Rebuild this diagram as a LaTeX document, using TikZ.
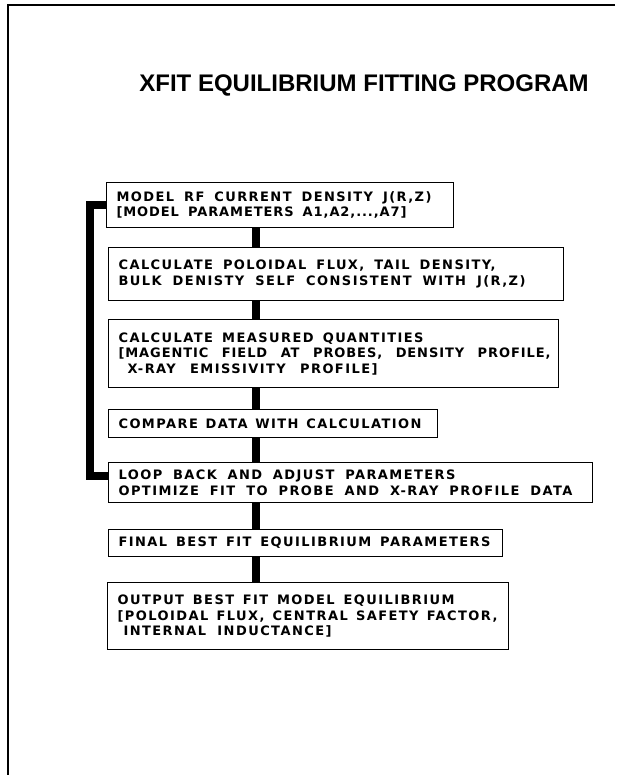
\documentclass[tikz,border=0pt]{standalone}
\usepackage{fontspec}
\setmainfont{Liberation Sans}
\newfontfamily\boxfont{DejaVu Sans}[LetterSpace=11]
\newfontfamily\tightboxfont{DejaVu Sans}[LetterSpace=7]
\newfontfamily\titlefont{Liberation Sans}
\newcommand\fitline[2]{\makebox[#1][s]{\frenchspacing\spaceskip=0.4em plus 1fil\relax #2}}
\begin{document}
\begin{tikzpicture}[x=1pt,y=-1pt,
  stepbox/.style={draw=black, line width=1.1pt, anchor=north west, inner xsep=10pt, inner ysep=0pt,
     align=left, font=\boxfont\bfseries\fontsize{13}{15.5}\selectfont},
  bar/.style={line width=8pt, line join=miter},
  frame/.style={line width=2pt}]
\useasboundingbox (0,0) rectangle (622,775);
% frame (top and left only)
\coordinate (ftl) at (8,5);
\coordinate (ftr) at (615,5);
\coordinate (fbl) at (8,775);
\draw[frame] (ftr) -- (ftl) -- (fbl);
% title
\node[font=\titlefont\bfseries\fontsize{24}{28}\selectfont, inner sep=0pt] (title) at (364,85) {XFIT EQUILIBRIUM FITTING PROGRAM};
% boxes
\node[stepbox, minimum width=347pt, minimum height=45pt, text width=327pt] (b1) at (106,182)
  {\fitline{315pt}{MODEL RF CURRENT DENSITY J(R,Z)}\\ \fitline{290pt}{\tightboxfont\bfseries [MODEL PARAMETERS A1,A2,...,A7]}};
\node[stepbox, minimum width=455pt, minimum height=53pt, text width=435pt] (b2) at (108,247)
  {\fitline{377pt}{CALCULATE POLOIDAL FLUX, TAIL DENSITY,}\\ \fitline{407pt}{BULK DENISTY SELF CONSISTENT WITH J(R,Z)}};
\node[stepbox, minimum width=450pt, minimum height=68pt, text width=430pt] (b3) at (108,319)
  {\fitline{305pt}{CALCULATE MEASURED QUANTITIES}\\ \fitline{432pt}{\tightboxfont\bfseries [MAGENTIC FIELD AT PROBES, DENSITY PROFILE,}\\ \hspace*{9pt}\fitline{250pt}{X-RAY EMISSIVITY PROFILE]}};
\node[stepbox, minimum width=329pt, minimum height=28pt, text width=309pt] (b4) at (108,409)
  {\fitline{303pt}{COMPARE DATA WITH CALCULATION}};
\node[stepbox, minimum width=484pt, minimum height=40pt, text width=464pt] (b5) at (108,462)
  {\fitline{337pt}{LOOP BACK AND ADJUST PARAMETERS}\\ \fitline{454pt}{OPTIMIZE FIT TO PROBE AND X-RAY PROFILE DATA}};
\node[stepbox, minimum width=394pt, minimum height=27pt, text width=374pt] (b6) at (108,529)
  {\fitline{372pt}{FINAL BEST FIT EQUILIBRIUM PARAMETERS}};
\node[stepbox, minimum width=401pt, minimum height=67pt, text width=381pt] (b7) at (107,582)
  {\fitline{337pt}{OUTPUT BEST FIT MODEL EQUILIBRIUM}\\ \fitline{380pt}{[POLOIDAL FLUX, CENTRAL SAFETY FACTOR,}\\ \hspace*{6pt}\fitline{208pt}{INTERNAL INDUCTANCE]}};
% spine connectors
\coordinate (sp) at (256,0);
\foreach \a/\b in {b1/b2,b2/b3,b3/b4,b4/b5,b5/b6,b6/b7}
  \draw[bar] (\a.south -| sp) -- (\b.north -| sp);
% loop back
\coordinate (l1) at (90,205);
\coordinate (l2) at (90,476);
\draw[bar] (b1.west |- l1) -- (l1) -- (l2) -- (b5.west |- l2);
\end{tikzpicture}
\end{document}
